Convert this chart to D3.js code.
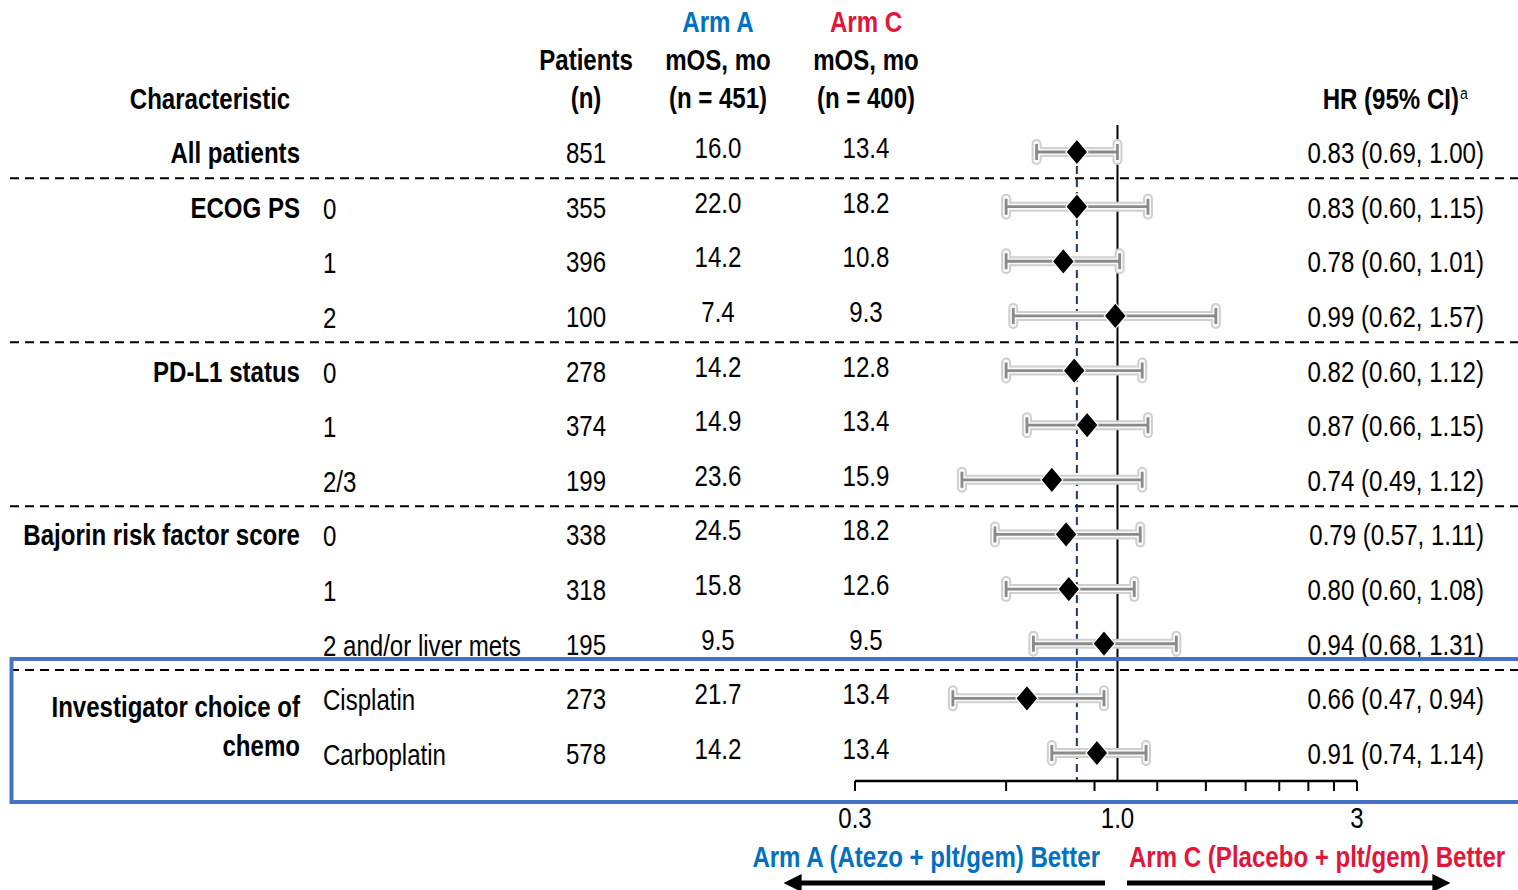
<!DOCTYPE html>
<html>
<head>
<meta charset="utf-8">
<script src="https://cdn.jsdelivr.net/npm/d3@7"></script>
<style>
  html, body { margin: 0; padding: 0; background: #fff; }
  svg { display: block; }
  text { font-family: "Liberation Sans", Arial, sans-serif; }
</style>
</head>
<body>
<svg id="chart" width="1518" height="890"></svg>
<script>
// ---- data ----
const groupLabels = [["All patients"], ["ECOG PS"], ["PD-L1 status"], ["Bajorin risk factor score"], ["Investigator choice of", "chemo"]];
const groupStart  = [0, 1, 4, 7, 10];
const groupSize   = [1, 3, 3, 3, 2];
const subgroups   = ["", "0", "1", "2", "0", "1", "2/3", "0", "1", "2 and/or liver mets", "Cisplatin", "Carboplatin"];
const patients    = ["851", "355", "396", "100", "278", "374", "199", "338", "318", "195", "273", "578"];
const mosA        = ["16.0", "22.0", "14.2", "7.4", "14.2", "14.9", "23.6", "24.5", "15.8", "9.5", "21.7", "14.2"];
const mosC        = ["13.4", "18.2", "10.8", "9.3", "12.8", "13.4", "15.9", "18.2", "12.6", "9.5", "13.4", "13.4"];
const hr          = [0.83, 0.83, 0.78, 0.99, 0.82, 0.87, 0.74, 0.79, 0.80, 0.94, 0.66, 0.91];
const ciLow       = [0.69, 0.60, 0.60, 0.62, 0.60, 0.66, 0.49, 0.57, 0.60, 0.68, 0.47, 0.74];
const ciHigh      = [1.00, 1.15, 1.01, 1.57, 1.12, 1.15, 1.12, 1.11, 1.08, 1.31, 0.94, 1.14];
const axisTicks   = [0.3, 0.6, 0.9, 1.2, 1.5, 1.8, 2.1, 2.4, 2.7, 3.0];
const axisLabels  = [[0.3, "0.3"], [1.0, "1.0"], [3.0, "3"]];
const overallHR   = hr[0];

const BLUE = "#0070C0", RED = "#E0173A", FRAME = "#4472C4", NAVY = "#1F3864";
const FS = 29;      // font size
const SX = 0.83;    // horizontal condensing for a narrow face

const svg = d3.select("#chart");

// condensed text helper: position via transform so the glyphs can be narrowed
const at = (x, y) => `translate(${x},${y}) scale(${SX},1)`;
function label(g, x, y, s, anchor = "start") {
  return g.append("text").attr("transform", at(x, y)).attr("text-anchor", anchor).text(s);
}

// ---- scales ----
const x = d3.scaleLog().domain([0.3, 3]).range([855, 1357]);
const rowY = d3.scaleLinear().domain([0, 11]).range([152, 753]);

// ---- header ----
const header = svg.append("g").attr("font-weight", "bold").attr("font-size", FS).attr("fill", "#000");
label(header, 210, 109, "Characteristic", "middle");
label(header, 586, 70, "Patients", "middle");
label(header, 586, 108, "(n)", "middle");
label(header, 718, 32, "Arm A", "middle").attr("fill", BLUE);
label(header, 718, 70, "mOS, mo", "middle");
label(header, 718, 108, "(n = 451)", "middle");
label(header, 866, 32, "Arm C", "middle").attr("fill", RED);
label(header, 866, 70, "mOS, mo", "middle");
label(header, 866, 108, "(n = 400)", "middle");
label(header, 1459, 109, "HR (95% CI)", "end");
label(header, 1460, 99, "a").attr("font-size", 17).attr("font-weight", "normal");

// ---- group separators ----
const sepRows = groupStart.slice(1);
svg.append("g").selectAll("line").data(sepRows).join("line")
  .attr("x1", 10).attr("x2", 1518)
  .attr("y1", d => (rowY(d - 1) + rowY(d)) / 2 - 1)
  .attr("y2", d => (rowY(d - 1) + rowY(d)) / 2 - 1)
  .attr("stroke", "#000").attr("stroke-width", 2).attr("stroke-dasharray", "9,6");

// ---- group labels ----
const gl = svg.append("g").attr("font-weight", "bold").attr("font-size", FS);
groupLabels.forEach((lines, i) => {
  const mid = (rowY(groupStart[i]) + rowY(groupStart[i] + groupSize[i] - 1)) / 2;
  const centre = lines.length > 1 ? mid : rowY(groupStart[i]);
  const spacing = 39;
  lines.forEach((ln, j) => {
    label(gl, 300, centre + (j - (lines.length - 1) / 2) * spacing + 11, ln, "end");
  });
});

// ---- table columns ----
const rows = d3.range(subgroups.length);
const cols = svg.append("g").attr("font-size", FS);
cols.selectAll("text.sub").data(rows).join("text").attr("class", "sub")
  .attr("transform", i => at(323, rowY(i) + 12)).text(i => subgroups[i]);
cols.selectAll("text.pat").data(rows).join("text").attr("class", "pat")
  .attr("transform", i => at(586, rowY(i) + 11)).attr("text-anchor", "middle").text(i => patients[i]);
cols.selectAll("text.ma").data(rows).join("text").attr("class", "ma")
  .attr("transform", i => at(718, rowY(i) + 6)).attr("text-anchor", "middle").text(i => mosA[i]);
cols.selectAll("text.mc").data(rows).join("text").attr("class", "mc")
  .attr("transform", i => at(866, rowY(i) + 6)).attr("text-anchor", "middle").text(i => mosC[i]);
cols.selectAll("text.hr").data(rows).join("text").attr("class", "hr")
  .attr("transform", i => at(1484, rowY(i) + 11)).attr("text-anchor", "end")
  .text(i => `${hr[i].toFixed(2)} (${ciLow[i].toFixed(2)}, ${ciHigh[i].toFixed(2)})`);

// ---- reference lines ----
const axisY = 781;
svg.append("line").attr("x1", x(1)).attr("x2", x(1)).attr("y1", 125).attr("y2", axisY)
  .attr("stroke", "#000").attr("stroke-width", 2);
svg.append("line").attr("x1", x(overallHR)).attr("x2", x(overallHR)).attr("y1", 166).attr("y2", axisY)
  .attr("stroke", NAVY).attr("stroke-width", 2).attr("stroke-dasharray", "8,5");

// ---- CI bars ----
const capH = 8;
const ciPath = i => {
  const a = x(ciLow[i]), b = x(ciHigh[i]), y = rowY(i);
  return `M${a},${y - capH}V${y + capH}M${a},${y}H${b}M${b},${y - capH}V${y + capH}`;
};
const ci = svg.append("g").attr("fill", "none").attr("stroke-linecap", "round");
ci.selectAll("path.o").data(rows).join("path").attr("class", "o").attr("d", ciPath)
  .attr("stroke", "#cfcfcf").attr("stroke-width", 10);
ci.selectAll("path.w").data(rows).join("path").attr("class", "w").attr("d", ciPath)
  .attr("stroke", "#fafafa").attr("stroke-width", 6);
ci.selectAll("path.i").data(rows).join("path").attr("class", "i").attr("d", ciPath)
  .attr("stroke", "#8a8a8a").attr("stroke-width", 2.8).attr("stroke-linecap", "butt");

// ---- point estimates ----
svg.append("g").selectAll("path").data(rows).join("path")
  .attr("d", i => {
    const cx = x(hr[i]), cy = rowY(i);
    return `M${cx},${cy - 13}L${cx + 11},${cy}L${cx},${cy + 13}L${cx - 11},${cy}Z`;
  })
  .attr("fill", "#000").attr("stroke", "#fff").attr("stroke-width", 1.2);

// ---- axis ----
const ax = svg.append("g");
ax.append("line").attr("x1", x(0.3)).attr("x2", x(3)).attr("y1", axisY).attr("y2", axisY)
  .attr("stroke", "#000").attr("stroke-width", 2.5);
ax.selectAll("line.t").data(axisTicks).join("line").attr("class", "t")
  .attr("x1", d => x(d)).attr("x2", d => x(d)).attr("y1", axisY).attr("y2", axisY + 10)
  .attr("stroke", "#000").attr("stroke-width", 2);
ax.selectAll("text").data(axisLabels).join("text")
  .attr("transform", d => at(x(d[0]), 828)).attr("text-anchor", "middle").attr("font-size", FS)
  .text(d => d[1]);

// ---- favour labels + arrows ----
const fav = svg.append("g").attr("font-weight", "bold").attr("font-size", FS);
label(fav, 1100, 867, "Arm A (Atezo + plt/gem) Better", "end").attr("fill", BLUE);
label(fav, 1129, 867, "Arm C (Placebo + plt/gem) Better").attr("fill", RED);

const defs = svg.append("defs");
defs.append("marker").attr("id", "arrowHead").attr("viewBox", "0 0 10 10")
  .attr("refX", 2).attr("refY", 5).attr("markerWidth", 3.6).attr("markerHeight", 3.6)
  .attr("orient", "auto-start-reverse")
  .append("path").attr("d", "M0,0L10,5L0,10Z").attr("fill", "#000");
svg.append("line").attr("x1", 1105).attr("x2", 798).attr("y1", 883).attr("y2", 883)
  .attr("stroke", "#000").attr("stroke-width", 5).attr("marker-end", "url(#arrowHead)");
svg.append("line").attr("x1", 1127).attr("x2", 1436).attr("y1", 883).attr("y2", 883)
  .attr("stroke", "#000").attr("stroke-width", 5).attr("marker-end", "url(#arrowHead)");

// ---- highlighted subgroup frame ----
svg.append("rect").attr("x", 11.5).attr("y", 659).attr("width", 1540).attr("height", 143)
  .attr("fill", "none").attr("stroke", FRAME).attr("stroke-width", 4);
</script>
</body>
</html>
